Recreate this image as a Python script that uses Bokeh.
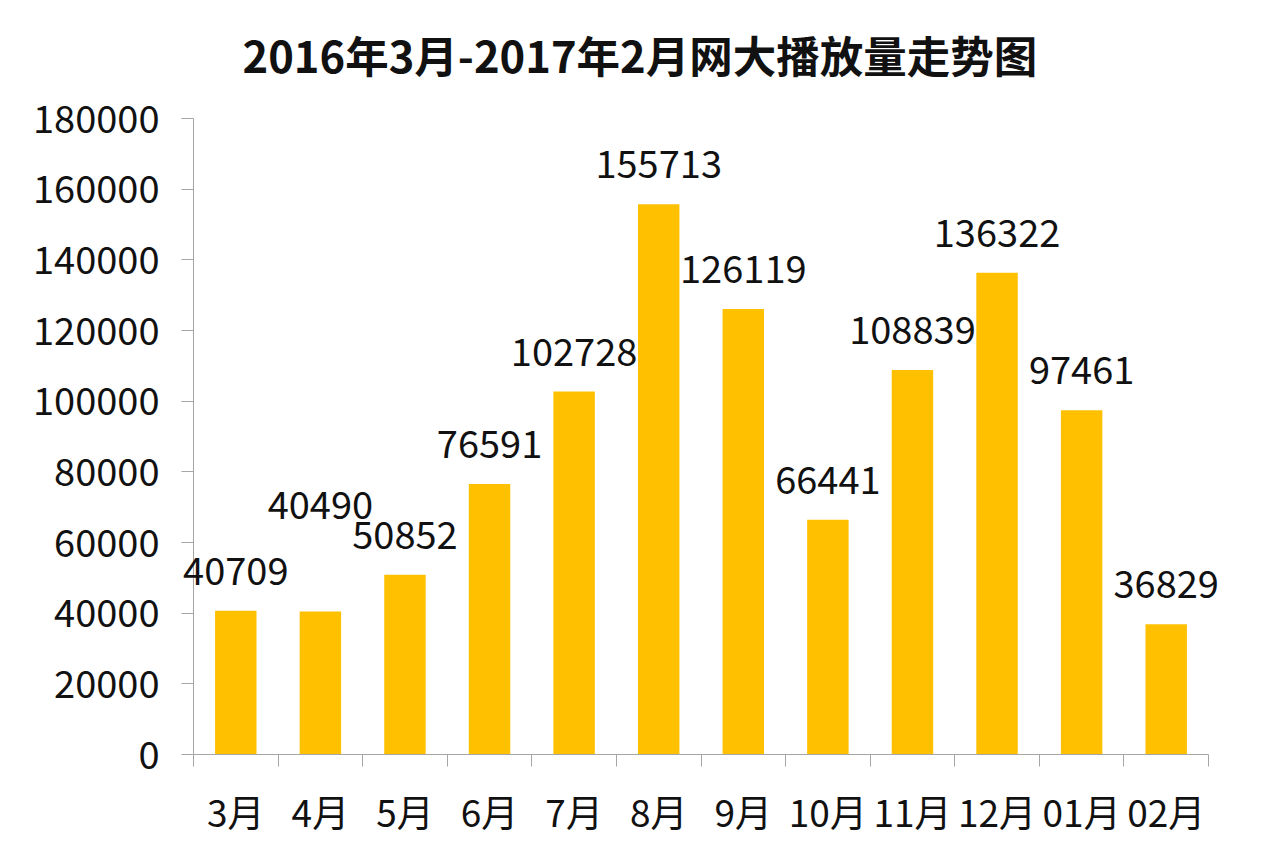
from bokeh.plotting import figure
from bokeh.models import Range1d, FixedTicker, LinearAxis, ColumnDataSource, LabelSet, Label
from bokeh.core.properties import value
from bokeh.embed import file_html
from bokeh.resources import INLINE

title_text = "2016年3月-2017年2月网大播放量走势图"
months = ["3月", "4月", "5月", "6月", "7月", "8月", "9月", "10月", "11月", "12月", "01月", "02月"]
plays = [40709, 40490, 50852, 76591, 102728, 155713, 126119, 66441, 108839, 136322, 97461, 36829]
y_ticks = [0, 20000, 40000, 60000, 80000, 100000, 120000, 140000, 160000, 180000]
# extra lift (px) of a data label, as placed in the original
label_lift = [0, 66, 0, 0, 0, 0, 0, 0, 0, 0, 0, 0]

FONT = "Noto Sans CJK SC"
AXIS_COLOR = "#A6A6A6"
BAR_COLOR = "#FFC000"

n = len(months)
centers = [i + 0.5 for i in range(n)]
Y_MAX = y_ticks[-1]

src = ColumnDataSource(dict(
    x=centers,
    top=plays,
    label=[str(v) for v in plays],
    yoff=[26 + l for l in label_lift],
))

# The plot frame covers the whole canvas so that no text is clipped;
# the axes are pinned inside it at the chart's own pixel positions.
W, H = 1264, 849
AXIS_L, AXIS_R = 193, 1208      # x of the y axis and right end of the x axis
AXIS_TOP, AXIS_BOT = 118, 754   # y of the top tick and of the x axis
ux = (AXIS_R - AXIS_L) / n
uy = (AXIS_BOT - AXIS_TOP) / Y_MAX
x_range = Range1d(-AXIS_L / ux, n + (W - AXIS_R) / ux)
y_range = Range1d(-(H - AXIS_BOT) / uy, Y_MAX + AXIS_TOP / uy)

p = figure(width=W, height=H, output_backend="svg", toolbar_location=None,
           x_range=x_range, y_range=y_range,
           x_axis_type=None, y_axis_type=None,
           min_border_left=0, min_border_right=0, min_border_top=0, min_border_bottom=0)
p.outline_line_color = None
p.grid.visible = False
p.title.visible = False
p.background_fill_color = "white"
p.border_fill_color = "white"

p.vbar(x="x", top="top", bottom=0, width=0.49, source=src, color=BAR_COLOR, line_color=None)

labels = LabelSet(x="x", y="top", text="label", source=src, y_offset="yoff",
                  text_align="center", text_baseline="alphabetic",
                  text_font=value(FONT), text_font_size=value("38px"), text_color="#111111")
p.add_layout(labels)

yaxis = LinearAxis(ticker=FixedTicker(ticks=y_ticks, minor_ticks=[]), fixed_location=0)
yaxis.bounds = (0, Y_MAX)
yaxis.axis_line_color = AXIS_COLOR
yaxis.major_tick_line_color = AXIS_COLOR
yaxis.major_tick_out = 12
yaxis.major_tick_in = 0
yaxis.minor_tick_line_color = None
yaxis.major_label_standoff = 22
yaxis.major_label_text_font = FONT
yaxis.major_label_text_font_size = "38px"
yaxis.major_label_text_color = "#111111"
yaxis.major_label_overrides = {t: str(t) for t in y_ticks}
p.add_layout(yaxis, "left")

xaxis = LinearAxis(ticker=FixedTicker(ticks=centers, minor_ticks=list(range(n + 1))), fixed_location=0)
xaxis.bounds = (0, n)
xaxis.axis_line_color = AXIS_COLOR
xaxis.major_tick_line_color = None
xaxis.major_tick_out = 12
xaxis.major_tick_in = 0
xaxis.minor_tick_line_color = AXIS_COLOR
xaxis.minor_tick_out = 12
xaxis.minor_tick_in = 0
xaxis.major_label_standoff = 17
xaxis.major_label_text_font = FONT
xaxis.major_label_text_font_size = "37px"
xaxis.major_label_text_color = "#111111"
xaxis.major_label_overrides = {c: m for c, m in zip(centers, months)}
p.add_layout(xaxis, "below")

title = Label(x=242, y=H - 54, x_units="screen", y_units="screen", text=title_text,
              text_align="left", text_baseline="middle",
              text_font=FONT, text_font_size="43.5px", text_font_style="bold",
              text_color="#111111")
p.add_layout(title)

open("out.html", "w").write(file_html(p, INLINE))
